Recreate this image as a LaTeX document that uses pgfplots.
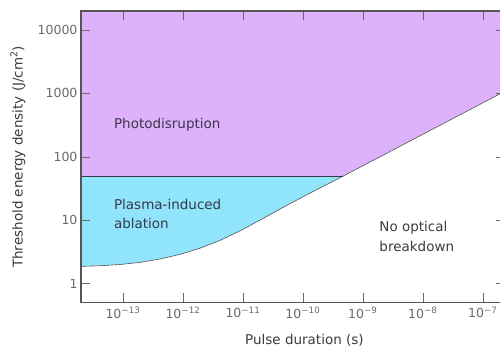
\documentclass[border=0pt]{standalone}
\usepackage{fontspec}
\setmainfont{DejaVu Sans}
\usepackage{pgfplots}
\pgfplotsset{compat=1.18}
\definecolor{purp}{HTML}{DEB1FD}
\definecolor{cyanf}{HTML}{90E4FC}
\definecolor{axgray}{HTML}{555555}
\definecolor{tickgray}{HTML}{6A6A6A}
\definecolor{labgray}{HTML}{3C3C3C}
\definecolor{txtdark}{HTML}{3A3848}
\begin{document}
\begin{tikzpicture}
\begin{axis}[
  name=ax,
  scale only axis,
  width=424pt, height=291.7pt,
  xmode=log, ymode=log,
  xmin=1.995e-14, xmax=2.34e-7,
  ymin=0.5, ymax=19950,
  xtick={1e-13,1e-12,1e-11,1e-10,1e-9,1e-8,1e-7},
  xticklabels={10\textsuperscript{−13},10\textsuperscript{−12},10\textsuperscript{−11},10\textsuperscript{−10},10\textsuperscript{−9},10\textsuperscript{−8},10\textsuperscript{−7}},
  ytick={1,10,100,1000,10000},
  yticklabels={1,10,100,1000,10000},
  minor tick num=0,
  log ticks with fixed point,
  every minor tick/.style={draw=none},
  major tick length=9.5pt,
  tick style={draw=tickgray, line width=0.6pt},
  axis line style={draw=axgray, line width=1.2pt},
  tick label style={font=\fontsize{12.5}{14}\selectfont, text=tickgray},
  yticklabel style={xshift=0pt},
  xticklabel style={yshift=-1pt},
  every axis x label/.style={at={(axis description cs:0.527,0)}, yshift=-37.3pt, anchor=center},
  every axis y label/.style={at={(axis description cs:0,0.5)}, xshift=-63pt, rotate=90, anchor=center},
  label style={font=\fontsize{13.5}{15}\selectfont, text=labgray},
  xlabel={Pulse duration (s)},
  ylabel={Threshold energy density (J/cm\textsuperscript{2})},
  axis on top,
]
% photodisruption region
\addplot[fill=purp, draw=none] coordinates {
  (1.995e-14,49.37) (4.64e-10,49.37) (2.34e-7,1082) (2.34e-7,19950) (1.995e-14,19950)
} -- cycle;
% plasma-induced ablation region
\addplot[fill=cyanf, draw=none] coordinates {
  (1.995e-14,49.37) (4.64e-10,49.37)
  (1.71e-10,30.48) (4.64e-11,15.89) (1.92e-11,10.02) (8.91e-12,6.776)
  (4.14e-12,4.797) (1.92e-12,3.614) (8.91e-13,2.891) (4.14e-13,2.443)
  (1.92e-13,2.163) (8.91e-14,2.002) (4.14e-14,1.912) (1.995e-14,1.871)
} -- cycle;
% boundaries
\addplot[draw=axgray, line width=0.6pt] coordinates {
  (1.995e-14,1.871) (4.14e-14,1.912) (8.91e-14,2.002) (1.92e-13,2.163)
  (4.14e-13,2.443) (8.91e-13,2.891) (1.92e-12,3.614) (4.14e-12,4.797)
  (8.91e-12,6.776) (1.92e-11,10.02) (4.64e-11,15.89) (1.71e-10,30.48) (4.64e-10,49.37)
};
\addplot[draw=axgray, line width=0.6pt] coordinates {(4.64e-10,49.37) (2.34e-7,1082)};
\addplot[draw=txtdark, line width=0.8pt] coordinates {(1.995e-14,49.37) (4.64e-10,49.37)};
\node[anchor=west, text=txtdark, font=\fontsize{13.5}{16}\selectfont] at (axis cs:6.2e-14,321) {Photodisruption};
\node[anchor=west, align=left, text=txtdark, font=\fontsize{13.5}{19}\selectfont] at (axis cs:6.2e-14,12.4) {Plasma-induced\\ablation};
\node[anchor=west, align=left, text=labgray, font=\fontsize{13.5}{20}\selectfont] at (axis cs:1.65e-9,5.53) {No optical\\breakdown};
\end{axis}
\pgfresetboundingbox
\path[use as bounding box] ([shift={(-81pt,-47.3pt)}]ax.south west) rectangle ([shift={(-5pt,11pt)}]ax.north east);
\end{tikzpicture}
\end{document}
